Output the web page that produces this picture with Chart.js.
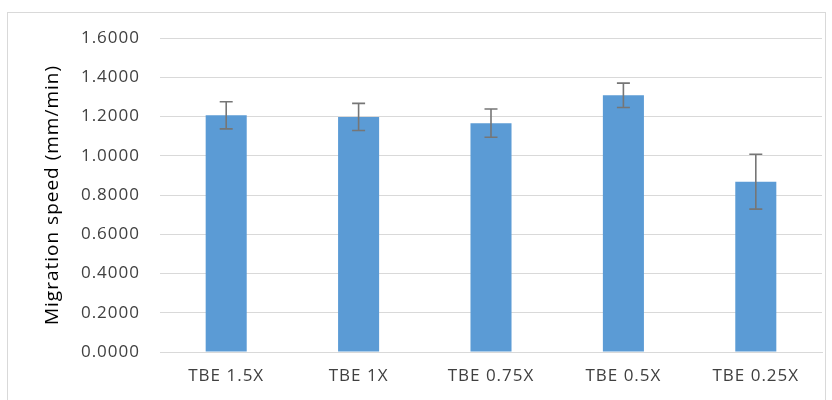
<!DOCTYPE html>
<html>
<head>
<meta charset="utf-8">
<script src="https://cdn.jsdelivr.net/npm/chart.js@4/dist/chart.umd.min.js"></script>
<style>
  body { margin: 0; background: #fff; }
  #wrap { position: relative; width: 832px; height: 400px; overflow: hidden; }
  #frame { position: absolute; left: 7px; top: 12px; width: 819px; height: 400px; border: 1px solid #d9d9d9; box-sizing: border-box; }
  canvas { position: absolute; left: 0; top: 0; }
</style>
</head>
<body>
<div id="wrap">
  <div id="frame"></div>
  <canvas id="chart" width="832" height="400"></canvas>
</div>
<script>
const LABELS = ['TBE 1.5X', 'TBE 1X', 'TBE 0.75X', 'TBE 0.5X', 'TBE 0.25X'];
const SPEED = [1.206, 1.198, 1.166, 1.308, 0.868];
const ERR = [0.069, 0.069, 0.072, 0.062, 0.140];

// the original text is spaced a bit wider than Open Sans
const spacing = {
    id: 'spacing',
    beforeLayout(chart) { chart.ctx.letterSpacing = '1px'; },
    beforeDraw(chart) { chart.ctx.letterSpacing = '1px'; }
};

// draws the +/- error whiskers on top of the bars
const errorBars = {
    id: 'errorBars',
    afterDatasetsDraw(chart) {
        const ctx = chart.ctx;
        const y = chart.scales.y;
        const meta = chart.getDatasetMeta(0);
        ctx.save();
        ctx.strokeStyle = '#767676';
        ctx.lineWidth = 1.6;
        meta.data.forEach((bar, i) => {
            const top = y.getPixelForValue(SPEED[i] + ERR[i]);
            const bot = y.getPixelForValue(SPEED[i] - ERR[i]);
            ctx.beginPath();
            ctx.moveTo(bar.x, top);
            ctx.lineTo(bar.x, bot);
            ctx.moveTo(bar.x - 6.5, top);
            ctx.lineTo(bar.x + 6.5, top);
            ctx.moveTo(bar.x - 6.5, bot);
            ctx.lineTo(bar.x + 6.5, bot);
            ctx.stroke();
        });
        ctx.restore();
    }
};

new Chart(document.getElementById('chart'), {
    type: 'bar',
    data: {
        labels: LABELS,
        datasets: [{
            data: SPEED,
            backgroundColor: '#5b9bd5',
            categoryPercentage: 1,
            barPercentage: 0.31
        }]
    },
    options: {
        responsive: false,
        animation: false,
        layout: { padding: { top: 38, right: 10, left: 0, bottom: 0 } },
        plugins: { legend: { display: false }, tooltip: { enabled: false } },
        scales: {
            x: {
                grid: { display: false, drawTicks: false },
                border: { color: '#d9d9d9' },
                ticks: { color: '#404040', font: { family: 'Open Sans', size: 17 }, padding: 14 },
                afterFit(scale) { scale.height = 48; }
            },
            y: {
                min: 0,
                max: 1.6,
                grid: { color: '#d9d9d9', drawTicks: false },
                border: { display: false },
                ticks: {
                    stepSize: 0.2,
                    color: '#404040',
                    font: { family: 'Open Sans', size: 17 },
                    padding: 20,
                    callback: v => v.toFixed(4)
                },
                title: {
                    display: true,
                    text: 'Migration speed (mm/min)',
                    color: '#000',
                    font: { family: 'Open Sans', size: 19 },
                    padding: { top: 41, bottom: 0 }
                },
                afterFit(scale) { scale.width = 160; }
            }
        }
    },
    plugins: [spacing, errorBars]
});
</script>
</body>
</html>
